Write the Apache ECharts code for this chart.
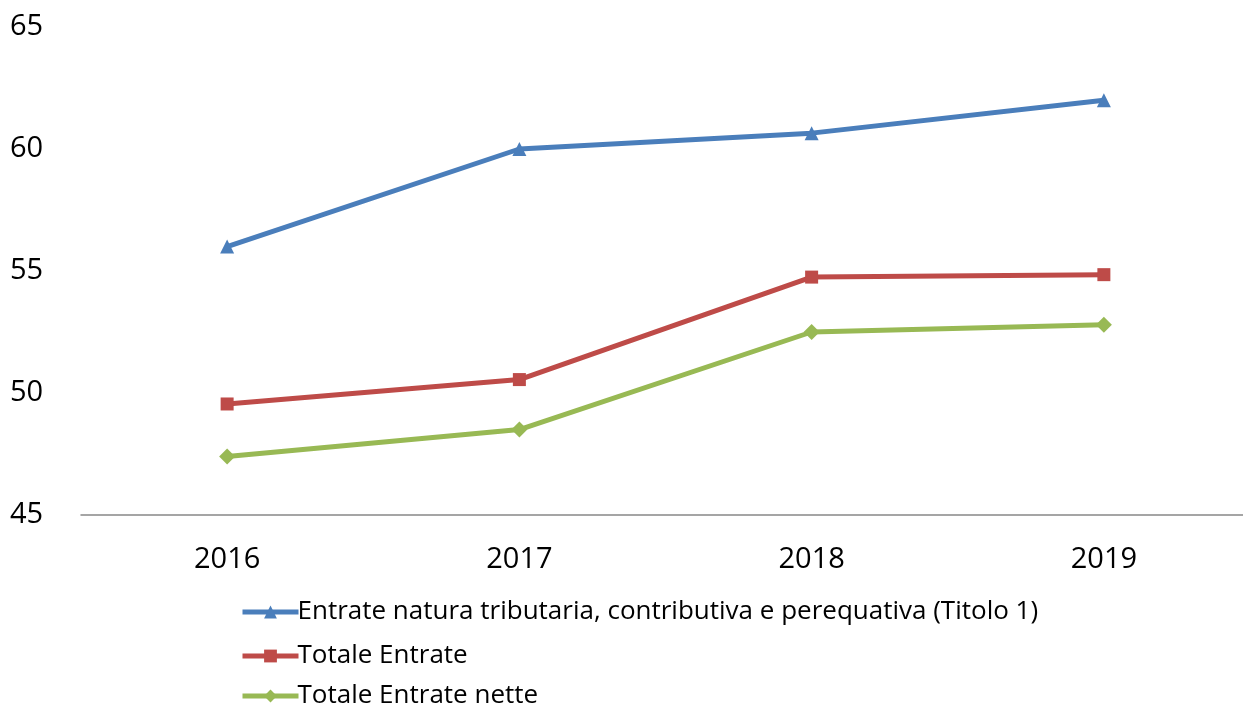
<!DOCTYPE html>
<html>
<head>
<meta charset="utf-8">
<script src="https://cdn.jsdelivr.net/npm/echarts@6/dist/echarts.min.js"></script>
<style>
  html, body { margin: 0; padding: 0; background: #fff; overflow: hidden; }
  #chart { width: 1252px; height: 706px; }
</style>
</head>
<body>
<div id="chart"></div>
<script>
const years = ["2016", "2017", "2018", "2019"];
const titolo1 = [56.0, 60.0, 60.65, 62.0];
const totaleEntrate = [49.55, 50.55, 54.75, 54.85];
const totaleNette = [47.4, 48.5, 52.5, 52.8];
const seriesNames = [
  "Entrate natura tributaria, contributiva e perequativa (Titolo 1)",
  "Totale Entrate",
  "Totale Entrate nette"
];

const font = "'Open Sans', 'Noto Sans', sans-serif";
const colors = ["#4a7ebb", "#be4b48", "#98b954"];
const legendTops = [598, 642, 682];

const chart = echarts.init(document.getElementById("chart"));

const lineSeries = (name, data, symbol, size) => ({
  name: name,
  type: "line",
  data: data,
  symbol: symbol,
  symbolSize: size,
  lineStyle: { width: 5 },
  emphasis: { disabled: true }
});

// one legend per row so they stack like the original
const legends = seriesNames.map((name, i) => ({
  orient: "vertical",
  left: 240,
  top: legendTops[i],
  padding: 0,
  itemWidth: 56,
  itemHeight: 16,
  lineStyle: { width: 5 },
  textStyle: { fontSize: 26, color: "#000", fontFamily: font, lineHeight: 28, padding: [0, 0, 0, -6] },
  data: [name]
}));

chart.setOption({
  animation: false,
  color: colors,
  textStyle: { fontFamily: font },
  // the plot runs a little past the right edge of the window, as in the original
  grid: { left: 81, right: 2, top: 27, bottom: 191, containLabel: false },
  legend: legends,
  xAxis: {
    type: "category",
    data: years,
    boundaryGap: true,
    axisLine: { lineStyle: { color: "#888", width: 1.5 } },
    axisTick: { show: false },
    axisLabel: { fontSize: 29, color: "#000", margin: 30 }
  },
  yAxis: {
    type: "value",
    min: 45,
    max: 65,
    interval: 5,
    axisLine: { show: false },
    axisTick: { show: false },
    splitLine: { show: false },
    axisLabel: { fontSize: 29, color: "#000", align: "left", margin: 71 }
  },
  series: [
    lineSeries(seriesNames[0], titolo1, "triangle", 14),
    lineSeries(seriesNames[1], totaleEntrate, "rect", 13),
    lineSeries(seriesNames[2], totaleNette, "diamond", 16)
  ]
});
</script>
</body>
</html>
